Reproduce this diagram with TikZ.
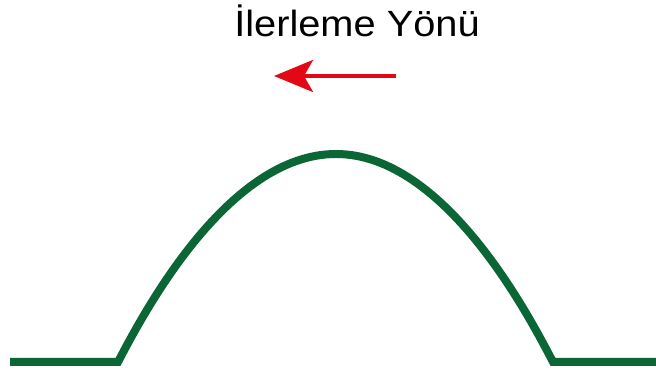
\documentclass[tikz,border=0pt]{standalone}
\usepackage{fontspec}
\setmainfont{Liberation Sans}
\usetikzlibrary{arrows.meta}
\definecolor{yesil}{RGB}{10,102,52}
\definecolor{kirmizi}{RGB}{226,8,22}
\tikzset{
  egri/.style={draw=yesil,line width=8pt},
  ok/.style={draw=kirmizi,line width=4pt,
    -{Stealth[length=39pt,width=32pt,inset=9pt,fill=kirmizi]}},
  baslik/.style={anchor=base,inner sep=0pt,xscale=1.09,
    font=\fontsize{36.5}{40}\selectfont},
}

\begin{document}
\begin{tikzpicture}[x=1pt,y=1pt]
  \useasboundingbox (0,0) rectangle (656,374);
  % baslik ve yon oku
  \node[baslik] (yazi) at (357,337) {İlerleme Yönü};
  \coordinate (okbas) at (396,298);
  \coordinate (okuc) at (274,298);
  \draw[ok] (okbas) -- (okuc);
  % tepe
  \draw[egri] (10,12) -- (118,12) parabola bend (336,220) (553,12) -- (656,12);
\end{tikzpicture}
\end{document}
